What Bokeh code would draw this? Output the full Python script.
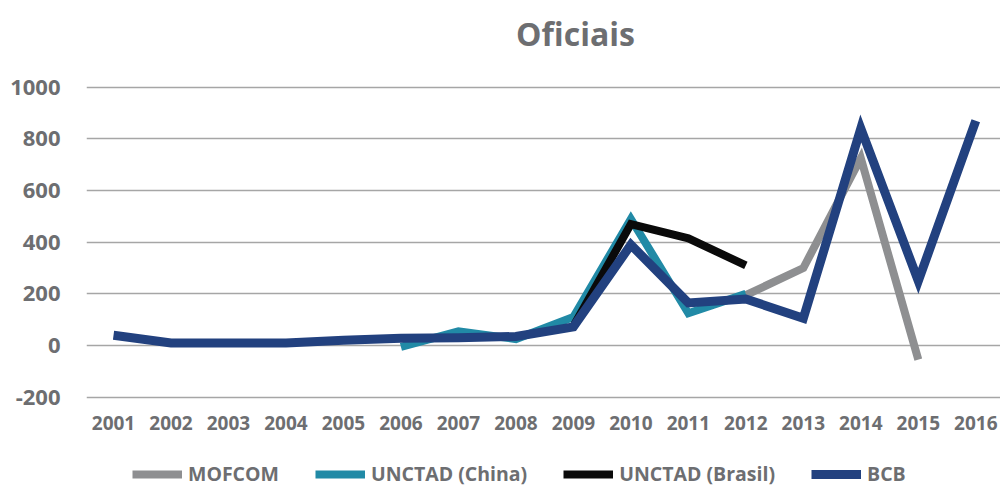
from bokeh.plotting import figure
from bokeh.models import Range1d, FixedTicker, Legend, LegendItem, Label
from bokeh.embed import file_html
from bokeh.resources import INLINE

# Annual values per source
years = [2001, 2002, 2003, 2004, 2005, 2006, 2007, 2008,
         2009, 2010, 2011, 2012, 2013, 2014, 2015, 2016]
year_labels = [str(y) for y in years]

mofcom_years = [2012, 2013, 2014, 2015]
mofcom = [195, 300, 725, -55]

unctad_china_years = [2006, 2007, 2008, 2009, 2010, 2011, 2012]
unctad_china = [-5, 55, 25, 110, 490, 125, 200]

unctad_brasil_years = [2009, 2010, 2011, 2012]
unctad_brasil = [75, 470, 415, 310]

bcb_years = years
bcb = [40, 10, 10, 10, 20, 28, 30, 35, 72, 390, 165, 180, 105, 840, 250, 870]

y_ticks = [-200, 0, 200, 400, 600, 800, 1000]
y_tick_labels = ["-200", "0", "200", "400", "600", "800", "1000"]

TEXT = "#6D6E71"
FONT = "Open Sans"

# the frame fills the full height so the title and legend can live inside it
p = figure(width=1000, height=488, output_backend="svg", toolbar_location=None,
           x_range=Range1d(2000.53, 2016.43), y_range=Range1d(-553.6, 1335.6),
           min_border_left=86, min_border_right=0, min_border_top=0,
           min_border_bottom=0)
p.outline_line_color = None
p.background_fill_color = "white"
p.border_fill_color = "white"

# axes
p.xaxis.ticker = FixedTicker(ticks=years)
p.xaxis.major_label_overrides = {y: s for y, s in zip(years, year_labels)}
p.xaxis.fixed_location = y_ticks[0]
p.yaxis.ticker = FixedTicker(ticks=y_ticks)
p.yaxis.major_label_overrides = {t: s for t, s in zip(y_ticks, y_tick_labels)}
for ax in (p.xaxis[0], p.yaxis[0]):
    ax.axis_line_color = None
    ax.major_tick_line_color = None
    ax.minor_tick_line_color = None
    ax.major_label_text_color = TEXT
    ax.major_label_text_font = FONT
    ax.major_label_text_font_style = "bold"
p.xaxis.major_label_text_font_size = "19px"
p.xaxis.major_label_standoff = 13
p.yaxis.major_label_text_font_size = "22px"
p.yaxis.major_label_standoff = 20

p.xgrid.grid_line_color = None
p.ygrid.grid_line_color = "#A6A6A6"
p.ygrid.grid_line_width = 1.5
p.ygrid.ticker = FixedTicker(ticks=y_ticks)

r_mof = p.line(mofcom_years, mofcom, line_color="#8E8F91", line_width=8,
               line_join="miter")
r_chn = p.line(unctad_china_years, unctad_china, line_color="#218AA6",
               line_width=8, line_join="miter")
r_bra = p.line(unctad_brasil_years, unctad_brasil, line_color="#0A0A0A",
               line_width=8, line_join="miter")
r_bcb = p.line(bcb_years, bcb, line_color="#22417F", line_width=9,
               line_join="miter")

legend = Legend(items=[
    LegendItem(label="MOFCOM", renderers=[r_mof]),
    LegendItem(label="UNCTAD (China)", renderers=[r_chn]),
    LegendItem(label="UNCTAD (Brasil)", renderers=[r_bra]),
    LegendItem(label="BCB", renderers=[r_bcb]),
], orientation="horizontal", location=(46, 1), padding=0, margin=0,
    spacing=36, glyph_width=50, glyph_height=12, label_height=12,
    label_standoff=6, label_text_font=FONT, label_text_font_style="bold",
    label_text_font_size="19.5px", label_text_color=TEXT,
    border_line_color=None, background_fill_alpha=0)
p.add_layout(legend, "center")

title = Label(x=489, y=455, x_units="screen", y_units="screen",
              text="Oficiais", text_align="center", text_baseline="middle",
              text_font=FONT, text_font_style="bold", text_font_size="32px",
              text_color=TEXT)
p.add_layout(title)

open("out.html", "w").write(file_html(p, INLINE))
